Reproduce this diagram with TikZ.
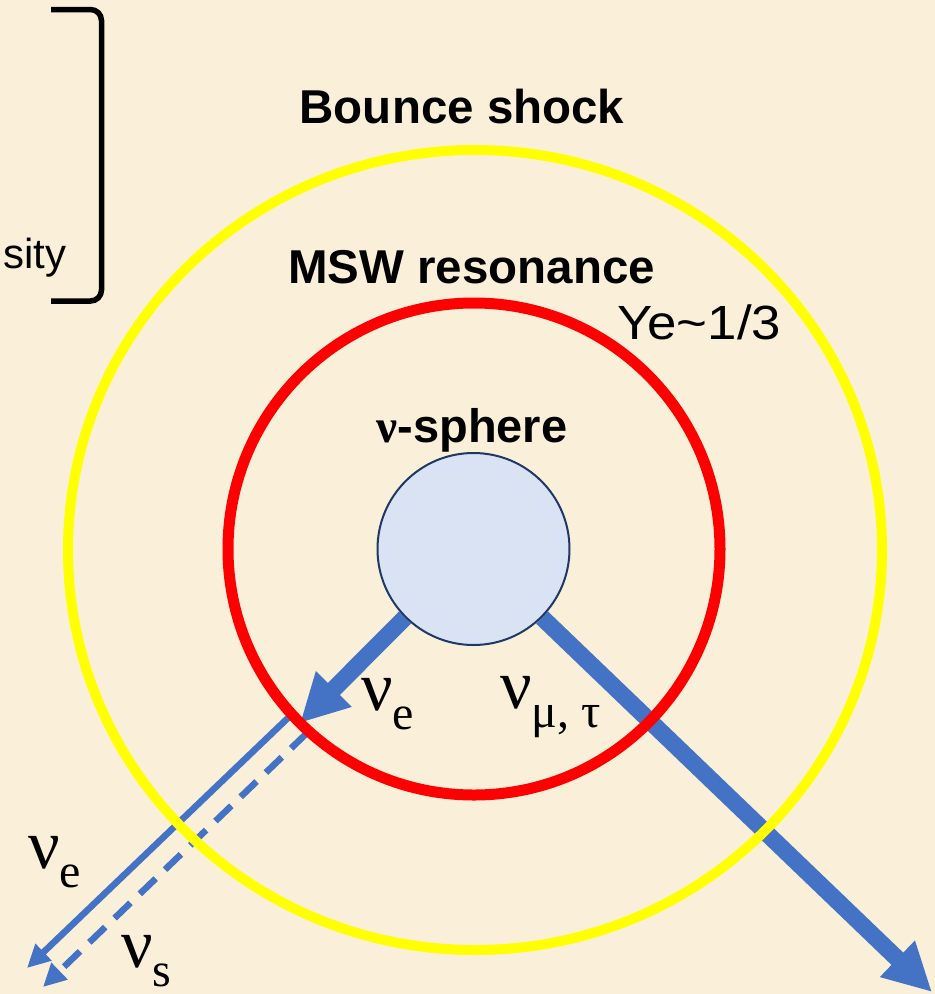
\documentclass[tikz,border=0pt]{standalone}
\usepackage{fontspec}
\setmainfont{Liberation Serif}
\newfontfamily\lsans{Liberation Sans}
\newfontfamily\grk{Liberation Serif}
\usetikzlibrary{arrows.meta}
\definecolor{paperbg}{HTML}{FAF0DA}
\definecolor{nublue}{HTML}{4472C4}
\definecolor{sphfill}{HTML}{DAE3F3}
\definecolor{sphline}{HTML}{1F3864}
\definecolor{shockyellow}{HTML}{FFFF00}
\definecolor{mswred}{HTML}{FF0000}
\pgfdeclarelayer{paper}
\pgfdeclarelayer{under}
\pgfsetlayers{paper,under,main}
\newcommand{\nusym}[1]{{\grk\fontsize{70}{70}\selectfont ν}\raisebox{-19pt}{\grk\fontsize{48}{48}\selectfont #1}}
\begin{document}
\begin{tikzpicture}[x=1pt,y=-1pt,
  boldlabel/.style={font=\lsans\bfseries\fontsize{47.5}{50}\selectfont, inner sep=0pt, anchor=base},
  thinlabel/.style={font=\lsans\fontsize{48}{50}\selectfont, inner sep=0pt, anchor=base west},
  nulabel/.style={inner sep=0pt, anchor=base west},
  thickarrow/.style={draw=nublue, line width=17pt, -{Triangle[length=48pt,width=47pt]}},
  thinarrow/.style={draw=nublue, line width=6.5pt, -{Triangle[length=23pt,width=22pt]}},
  ring/.style={line width=10pt}]
\begin{pgfonlayer}{paper}
\fill[paperbg] (0,0) rectangle (935,994);
\end{pgfonlayer}
\useasboundingbox (0,0) rectangle (935,994);

% bracket
\draw[line width=5.5pt, rounded corners=11pt] (51,9.5) -- (101.5,9.5) -- (101.5,301) -- (51,301);
\node[font=\lsans\fontsize{42}{44}\selectfont, inner sep=0pt, anchor=base west] (sity) at (3,268) {sity};

% rings
\draw[shockyellow, ring] (475,550) ellipse [x radius=407, y radius=400];
\draw[mswred, line width=11pt] (474,549) circle [radius=246];

% sphere
\node[circle, draw=sphline, line width=2pt, fill=sphfill, minimum size=192pt, inner sep=0pt] (sphere) at (473.5,549) {};

% arrow end points
\coordinate (tipE) at (300,723);
\coordinate (tipMT) at (932,992);
\coordinate (nueStart) at (290,716);
\coordinate (nueTip) at (27,968);
\coordinate (nusStart) at (307,733);
\coordinate (nusTip) at (43,987);

\begin{pgfonlayer}{under}
\draw[thickarrow] (sphere.225) -- (tipE);
\draw[thickarrow] (sphere.-45) -- (tipMT);
\draw[thinarrow] (nueStart) -- (nueTip);
\draw[thinarrow, dash pattern=on 22pt off 13pt] (nusStart) -- (nusTip);
\end{pgfonlayer}

% titles
\node[boldlabel] (bounce) at (462,123) {Bounce shock};
\node[boldlabel] (msw) at (471.5,283) {MSW resonance};
\node[boldlabel, font=\lsans\bfseries\fontsize{47}{50}\selectfont] (nusph) at (472,442) {{\grk\bfseries ν}-sphere};
\node[thinlabel] (ye) at (617,339) {\scalebox{1.1}[1]{Ye\textasciitilde 1/3}};

% neutrino labels
\node[nulabel] (lnue1) at (361,710) {\nusym{e}};
\node[nulabel] (lnumt) at (500,708) {\nusym{μ, τ}};
\node[nulabel] (lnue2) at (28,868) {\nusym{e}};
\node[nulabel] (lnus) at (121,967) {\nusym{s}};
\end{tikzpicture}
\end{document}
